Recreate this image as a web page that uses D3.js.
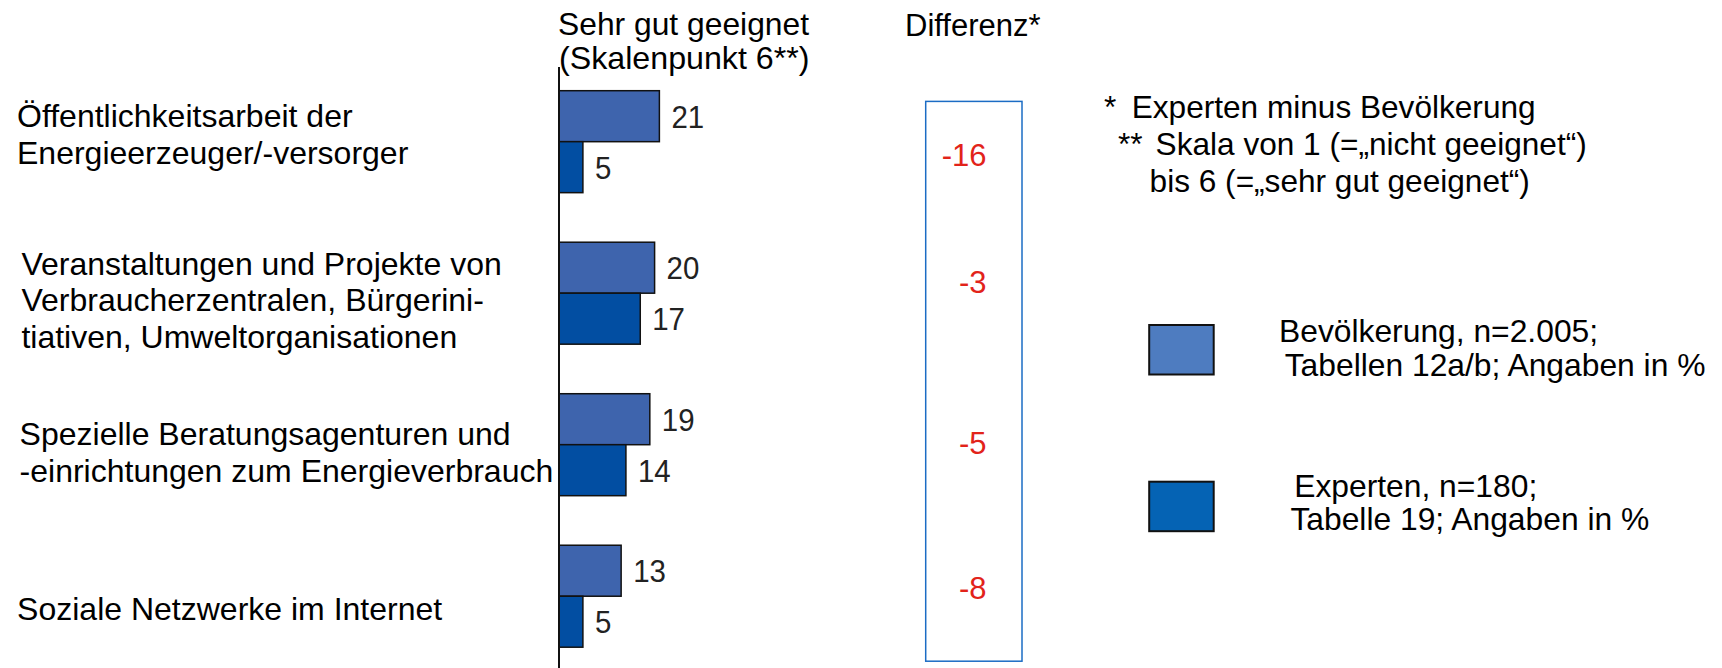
<!DOCTYPE html>
<html>
<head>
<meta charset="utf-8">
<script src="https://cdn.jsdelivr.net/npm/d3@7"></script>
<style>
  html, body { margin: 0; padding: 0; background: #fff; }
  svg { display: block; }
  text { font-family: "Liberation Sans", Arial, sans-serif; }
</style>
</head>
<body>
<svg id="chart" width="1722" height="668"></svg>
<script>
// ---- data ----
const categories = [
  "Öffentlichkeitsarbeit der Energieerzeuger/-versorger",
  "Veranstaltungen und Projekte von Verbraucherzentralen, Bürgerinitiativen, Umweltorganisationen",
  "Spezielle Beratungsagenturen und -einrichtungen zum Energieverbrauch",
  "Soziale Netzwerke im Internet"
];
const categoryLines = [
  ["Öffentlichkeitsarbeit der", "Energieerzeuger/-versorger"],
  ["Veranstaltungen und Projekte von", "Verbraucherzentralen, Bürgerini-", "tiativen, Umweltorganisationen"],
  ["Spezielle Beratungsagenturen und", "-einrichtungen zum Energieverbrauch"],
  ["Soziale Netzwerke im Internet"]
];
const seriesNames = ["Bevölkerung", "Experten"];
const bevoelkerung = [21, 20, 19, 13];
const experten = [5, 17, 14, 5];
const differenz = [-16, -3, -5, -8];
const headerLines = ["Sehr gut geeignet", "(Skalenpunkt 6**)"];
const diffHeader = "Differenz*";
const footnoteMarks = ["*", "**", ""];
const footnoteLines = ["Experten minus Bevölkerung", "Skala von 1 (=„nicht geeignet“)", "bis 6 (=„sehr gut geeignet“)"];
const legendLines = [
  ["Bevölkerung, n=2.005;", "Tabellen 12a/b; Angaben in %"],
  ["Experten, n=180;", "Tabelle 19; Angaben in %"]
];

// ---- layout (styles/positions only) ----
const colors = { "Bevölkerung": "#3e64ad", "Experten": "#024ea2" };
const legendColors = { "Bevölkerung": "#4e7cc0", "Experten": "#0563b4" };
const labelX = [17, 21.4, 19.6, 17.1];
const labelFirstDy = [-14.8, -18.5, 0.3, 23.3];
const diffDy = [24, -0.5, 9.5, 2.6];

const svg = d3.select("#chart");

const x = d3.scaleLinear().domain([0, 100]).range([559, 559 + 478]);
const y = d3.scaleBand().domain(categories).range([90.7, 647.2]).paddingInner(0.327).paddingOuter(0);
const ys = d3.scaleBand().domain(seriesNames).range([0, y.bandwidth()]).padding(0);

const rows = categories.map((c, i) => ({
  cat: c, i,
  values: [
    { s: "Bevölkerung", v: bevoelkerung[i] },
    { s: "Experten", v: experten[i] }
  ]
}));

// bars
const grp = svg.append("g").selectAll("g.grp").data(rows).join("g")
  .attr("class", "grp")
  .attr("transform", d => `translate(0,${y(d.cat)})`);

grp.selectAll("rect").data(d => d.values).join("rect")
  .attr("x", x(0))
  .attr("y", d => ys(d.s))
  .attr("width", d => x(d.v) - x(0))
  .attr("height", ys.bandwidth())
  .attr("fill", d => colors[d.s])
  .attr("stroke", "#111")
  .attr("stroke-width", 1.5);

grp.selectAll("text.val").data(d => d.values).join("text")
  .attr("class", "val")
  .attr("x", d => x(d.v) + 12)
  .attr("y", d => ys(d.s) + ys.bandwidth() / 2)
  .attr("dy", "0.36em")
  .attr("font-size", 32)
  .attr("fill", "#222")
  .text(d => d.v)
  .each(function () {
    const w = this.getComputedTextLength();
    d3.select(this).attr("textLength", w * 0.92).attr("lengthAdjust", "spacingAndGlyphs");
  });

// axis line
svg.append("line")
  .attr("x1", x(0)).attr("x2", x(0))
  .attr("y1", 67).attr("y2", 668)
  .attr("stroke", "#111").attr("stroke-width", 2);

// category labels
const lab = svg.selectAll("text.cat").data(rows).join("text")
  .attr("class", "cat")
  .attr("font-size", 32)
  .attr("fill", "#000");
lab.selectAll("tspan").data(d => categoryLines[d.i].map((t, k) => ({ t, k, i: d.i, cat: d.cat })))
  .join("tspan")
  .attr("x", d => labelX[d.i])
  .attr("y", d => y(d.cat) + y.bandwidth() / 2 + labelFirstDy[d.i] + d.k * 36.8)
  .text(d => d.t);

// headers
svg.append("text").attr("x", 558).attr("y", 34.5).attr("font-size", 31.8).attr("fill", "#000").text(headerLines[0]);
svg.append("text").attr("x", 559).attr("y", 68.5).attr("font-size", 32.2).attr("fill", "#000").text(headerLines[1]);
svg.append("text").attr("x", 905).attr("y", 36).attr("font-size", 31).attr("fill", "#000").text(diffHeader);

// difference box
svg.append("rect")
  .attr("x", 925.7).attr("y", 101.4)
  .attr("width", 96.3).attr("height", 559.8)
  .attr("fill", "none").attr("stroke", "#1b6cc4").attr("stroke-width", 1.5);

svg.selectAll("text.diff").data(rows).join("text")
  .attr("class", "diff")
  .attr("x", 986.5)
  .attr("y", d => y(d.cat) + y.bandwidth() / 2 + diffDy[d.i])
  .attr("text-anchor", "end")
  .attr("font-size", 31)
  .attr("fill", "#e2231a")
  .text(d => differenz[d.i]);

// footnotes
const fnMarkX = [1104, 1117.9, 0];
const fnTextX = [1131.7, 1155.6, 1149.6];
const fnY = [118, 154.5, 191.5];
const fn = svg.append("g").attr("font-size", 31.6).attr("fill", "#000");
footnoteLines.forEach((t, k) => {
  if (footnoteMarks[k]) fn.append("text").attr("x", fnMarkX[k]).attr("y", fnY[k]).text(footnoteMarks[k]);
  fn.append("text").attr("x", fnTextX[k]).attr("y", fnY[k]).text(t);
});

// legend
const legendY = [325, 481.7];
const legendTextX = [[1279, 1284.7], [1294.2, 1290.4]];
const legendTextY = [[342, 375.5], [496.7, 530]];
const lg = svg.selectAll("g.leg").data(seriesNames).join("g").attr("class", "leg");
lg.append("rect")
  .attr("x", 1149.2)
  .attr("y", (d, i) => legendY[i])
  .attr("width", 64.5).attr("height", 49.5)
  .attr("fill", d => legendColors[d])
  .attr("stroke", "#111").attr("stroke-width", 2);
lg.each(function (d, i) {
  const sel = d3.select(this);
  legendLines[i].forEach((t, k) => {
    sel.append("text")
      .attr("x", legendTextX[i][k])
      .attr("y", legendTextY[i][k])
      .attr("font-size", 31.8)
      .attr("fill", "#000")
      .text(t);
  });
});
</script>
</body>
</html>
